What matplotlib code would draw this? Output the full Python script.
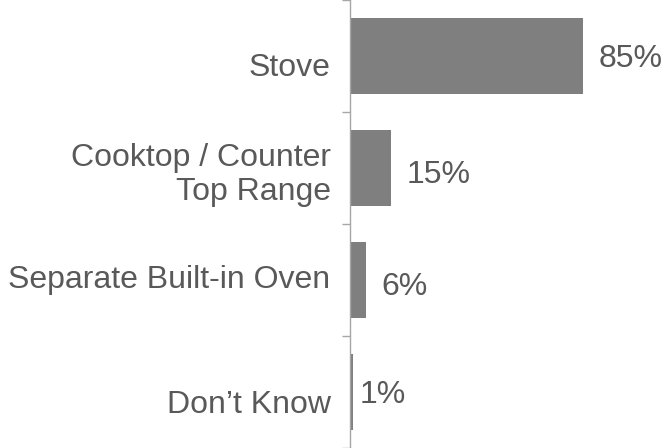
import matplotlib.pyplot as plt
import numpy as np

categories = ['Stove', 'Cooktop / Counter\nTop Range', 'Separate Built-in Oven', 'Don\u2019t Know']
shares = [85, 15, 6, 1]

# hand-tuned nudges (points) for the text boxes
cat_dy = [-9, -5, 0, -9]
val_dx = [11, 11, 11, 5]
val_dy = [-2, -5, -5, -2]

plt.rcParams['font.family'] = ['Liberation Sans', 'DejaVu Sans']
bar_color = '#7f7f7f'
text_color = '#595959'
axis_color = '#a6a6a6'

fig = plt.figure(figsize=(6.67, 4.48), dpi=100)
ax = fig.add_axes([350 / 667, 0, 274 / 667, 1])

pos = np.arange(len(categories))
ax.barh(pos, shares, height=0.67, color=bar_color)
for p, v, dx, dy in zip(pos, shares, val_dx, val_dy):
    ax.annotate('{}%'.format(v), (v, p), xytext=(dx, dy), textcoords='offset points',
                ha='left', va='center', fontsize=23, color=text_color)

for p, name, dy in zip(pos, categories, cat_dy):
    ax.annotate(name, (0, p), xycoords=('axes fraction', 'data'), xytext=(-14, dy),
                textcoords='offset points', ha='right', va='center', multialignment='right',
                fontsize=23, color=text_color, annotation_clip=False)

ax.set_xlim(0, 100)
ax.set_ylim(len(categories) - 0.5, -0.5)

# ticks mark the boundaries between categories
ax.set_yticks(np.arange(len(categories) + 1) - 0.5)
ax.set_yticklabels([])
ax.tick_params(axis='y', length=6, width=1, color=axis_color)

ax.set_xticks([])
for s in ['top', 'right', 'bottom']:
    ax.spines[s].set_visible(False)
ax.spines['left'].set_color(axis_color)
ax.spines['left'].set_linewidth(1)

fig.savefig('out.png', dpi=100)
